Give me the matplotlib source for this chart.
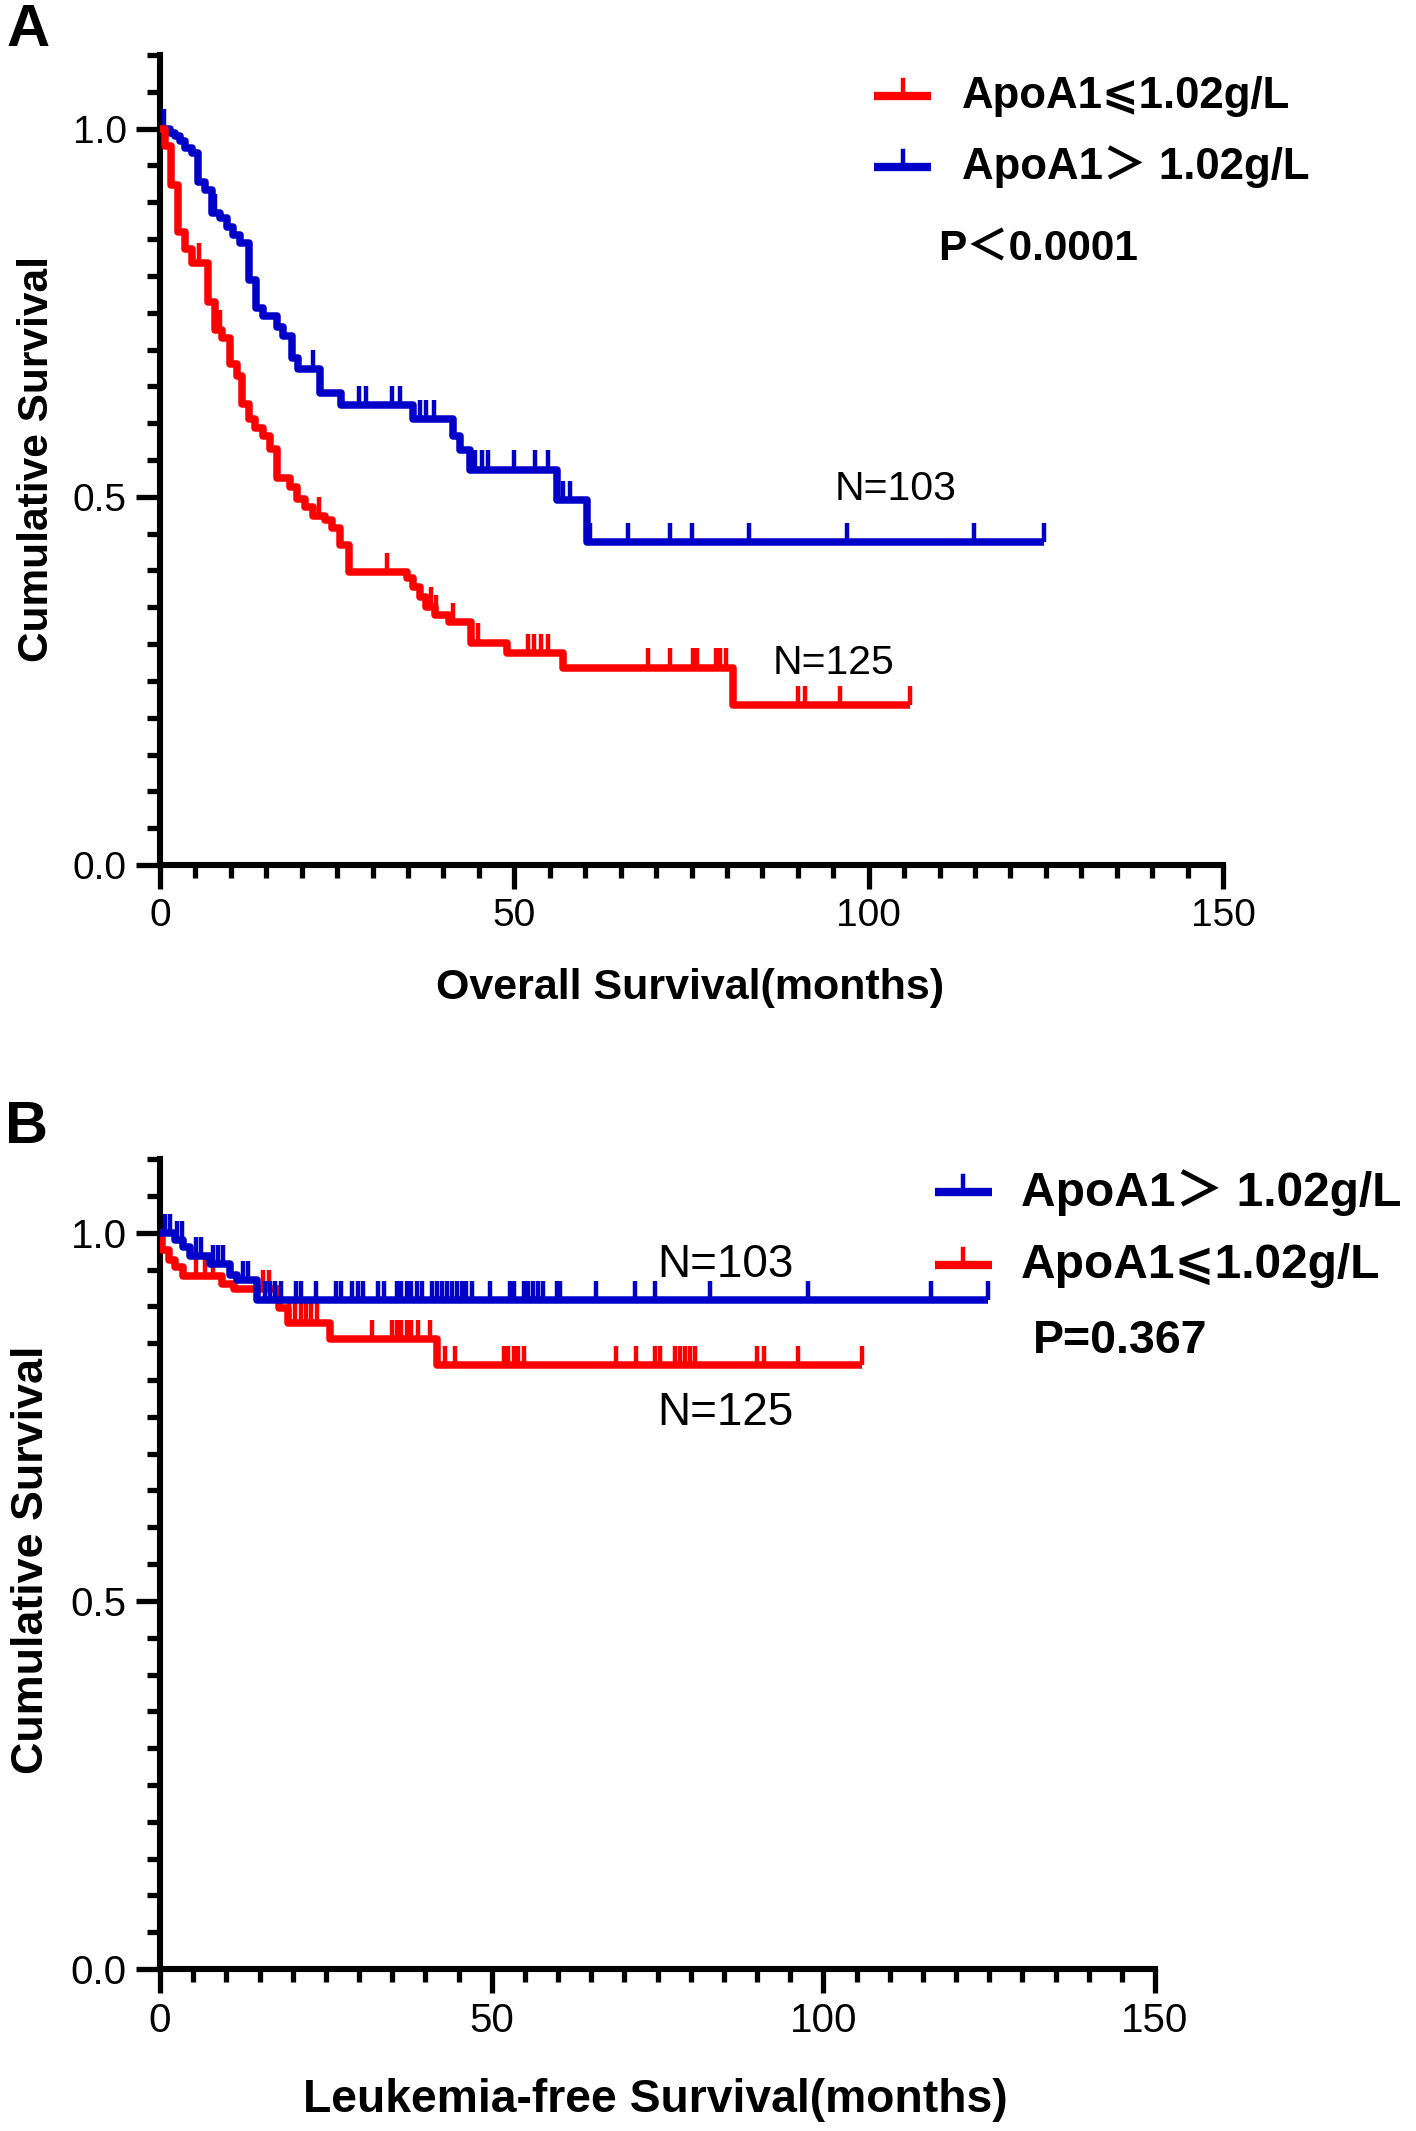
import numpy as np
import matplotlib
matplotlib.use("Agg")
import matplotlib.pyplot as plt
from matplotlib.ticker import MultipleLocator, FormatStrFormatter

plt.rcParams['font.family'] = ['Liberation Sans', 'DejaVu Sans', 'Noto Sans CJK SC']

RED = '#FF0000'
BLUE = '#0000C8'

# Panel A - overall survival (event times in months, survival after each step)
os_low_t = [0, 0.7, 1.6, 2.6, 3.5, 4.5, 6.8, 7.8, 8.7, 9.9, 10.8, 11.5, 12.5, 13.4, 14.6,
            15.5, 16.5, 18.3, 19.3, 20.5, 21.6, 23.3, 24.2, 25.4, 26.6, 34.8, 35.7, 36.7,
            37.6, 38.8, 40.8, 43.9, 49.0, 56.9, 80.9]
os_low_s = [1.0, 0.976, 0.924, 0.859, 0.836, 0.818, 0.765, 0.727, 0.716, 0.680, 0.664, 0.626,
            0.605, 0.594, 0.583, 0.565, 0.526, 0.513, 0.497, 0.486, 0.474, 0.468, 0.457, 0.434,
            0.398, 0.390, 0.378, 0.364, 0.351, 0.340, 0.330, 0.302, 0.288, 0.268, 0.217]
os_low_cens = [5.5, 8.5, 22.5, 32.0, 38.3, 38.9, 41.4, 44.9, 51.9, 52.8, 53.8, 54.7, 68.9, 72.0,
               75.2, 75.8, 78.4, 79.0, 79.9, 90.0, 91.0, 96.0, 105.9]

os_high_t = [0, 1.4, 2.1, 2.8, 3.5, 4.5, 5.4, 6.3, 7.3, 8.5, 9.4, 10.3, 11.3, 12.5, 13.6, 14.6,
             16.5, 17.4, 18.6, 19.5, 22.6, 25.6, 35.7, 41.4, 42.3, 43.7, 56.0, 60.2]
os_high_s = [1.0, 0.994, 0.990, 0.983, 0.974, 0.967, 0.928, 0.917, 0.885, 0.879, 0.867, 0.856,
             0.845, 0.795, 0.756, 0.745, 0.731, 0.718, 0.688, 0.673, 0.641, 0.625, 0.605, 0.582,
             0.564, 0.537, 0.496, 0.439]
os_high_cens = [0.5, 7.8, 21.6, 28.1, 29.0, 32.7, 33.9, 36.7, 37.6, 38.6, 44.5, 45.4, 46.3, 49.9,
                52.9, 54.8, 56.9, 57.9, 60.7, 66.0, 72.0, 75.0, 83.1, 96.9, 114.9, 124.7]

# Panel B - leukemia-free survival
lfs_low_t = [0, 0.3, 1.3, 2.3, 3.5, 9.3, 11.1, 18.0, 19.3, 25.6, 41.7]
lfs_low_s = [1.0, 0.977, 0.963, 0.954, 0.941, 0.930, 0.924, 0.898, 0.878, 0.855, 0.820]
lfs_low_cens = [5.5, 6.8, 8.0, 15.5, 16.5, 19.5, 20.3, 21.2, 22.0, 22.8, 23.6, 31.9, 34.9, 35.7,
                36.4, 37.2, 37.9, 38.9, 40.7, 43.0, 44.5, 51.8, 52.5, 53.3, 54.0, 54.8, 68.8,
                71.7, 74.6, 75.4, 77.6, 78.4, 79.2, 79.9, 80.7, 90.0, 91.0, 96.2, 105.8]

lfs_high_t = [0, 2.3, 3.5, 4.5, 7.5, 10.6, 11.6, 14.6]
lfs_high_s = [1.0, 0.990, 0.980, 0.968, 0.957, 0.943, 0.936, 0.908]
lfs_high_cens = [0.8, 1.5, 2.5, 3.3, 5.5, 6.2, 8.0, 8.8, 9.5, 12.5, 13.2, 15.8, 16.6, 17.4, 18.2,
                 20.5, 21.3, 23.5, 26.5, 27.3, 29.0, 29.8, 30.6, 32.9, 33.7, 35.7, 36.4, 37.2,
                 37.9, 38.7, 39.5, 41.0, 41.7, 42.5, 43.2, 44.0, 44.7, 45.5, 46.2, 47.0, 49.8,
                 52.8, 53.3, 54.8, 55.5, 56.3, 57.0, 57.8, 59.8, 60.3, 65.8, 71.6, 74.6, 82.9,
                 97.7, 116.2, 124.8]

label_low = 'ApoA1⩽1.02g/L'
label_high = 'ApoA1＞ 1.02g/L'
n_low = 'N=125'
n_high = 'N=103'


def km(ax, t, s, cens, color, z):
    t = np.array(t)
    s = np.array(s)
    cens = np.array(cens)
    end = cens.max()
    tt = np.append(t, end)
    ss = np.append(s, s[-1])
    ax.step(tt, ss, where='post', color=color, lw=5.4, zorder=z, solid_capstyle='butt')
    idx = np.searchsorted(t, cens, side='right') - 1
    sc = s[idx]
    ax.vlines(cens, sc, sc + 0.026, color=color, lw=3.2, zorder=z)


def style_axes(ax, labelsize):
    ax.set_xlim(0, 150)
    ax.set_ylim(0, 1.1)
    for side in ['top', 'right']:
        ax.spines[side].set_visible(False)
    for side in ['left', 'bottom']:
        ax.spines[side].set_linewidth(4.4)
    ax.xaxis.set_major_locator(MultipleLocator(50))
    ax.xaxis.set_minor_locator(MultipleLocator(5))
    ax.yaxis.set_major_locator(MultipleLocator(0.5))
    ax.yaxis.set_minor_locator(MultipleLocator(0.05))
    ax.yaxis.set_major_formatter(FormatStrFormatter('%.1f'))
    ax.tick_params(which='major', length=17, width=3.8, labelsize=labelsize, pad=7)
    ax.tick_params(which='minor', length=9.5, width=3.8)


def legend_entry(ax, x0, x1, y, color, text, size):
    ax.plot([x0, x1], [y, y], color=color, lw=6, transform=ax.transAxes, clip_on=False,
            solid_capstyle='butt')
    xm = (x0 + x1) / 2
    ax.plot([xm, xm], [y, y + 0.02], color=color, lw=3.2, transform=ax.transAxes,
            clip_on=False)
    ax.text(x1 + 0.029, y, text, transform=ax.transAxes, fontsize=size, fontweight='bold',
            va='center', ha='left')


fig = plt.figure(figsize=(14.16, 21.31), dpi=100)

# Panel A
axA = fig.add_axes([0.1130, 0.5941, 0.7507, 0.3801])
km(axA, os_high_t, os_high_s, os_high_cens, BLUE, 3)
km(axA, os_low_t, os_low_s, os_low_cens, RED, 4)
style_axes(axA, 28)
legend_entry(axA, 0.672, 0.725, 0.949, RED, label_low, 31.5)
legend_entry(axA, 0.672, 0.725, 0.862, BLUE, label_high, 31.5)
axA.text(0.732, 0.760, 'P＜0.0001', transform=axA.transAxes, fontsize=30.5, fontweight='bold',
         va='center', ha='left')
axA.text(0.692, 0.464, n_high, transform=axA.transAxes, fontsize=29.5, va='center', ha='center')
axA.text(0.634, 0.249, n_low, transform=axA.transAxes, fontsize=29.5, va='center', ha='center')
fig.text(0.487, 0.5364, 'Overall Survival(months)', fontsize=31, fontweight='bold',
         ha='center', va='center')
fig.text(0.026, 0.7846, 'Cumulative Survival', fontsize=30.5, fontweight='bold',
         rotation=90, ha='center', va='center')
fig.text(0.020, 0.9855, 'A', fontsize=43, fontweight='bold', ha='center', va='center')

# Panel B
axB = fig.add_axes([0.1130, 0.0760, 0.7027, 0.3801])
km(axB, lfs_low_t, lfs_low_s, lfs_low_cens, RED, 3)
km(axB, lfs_high_t, lfs_high_s, lfs_high_cens, BLUE, 4)
style_axes(axB, 29)
legend_entry(axB, 0.779, 0.836, 0.959, BLUE, label_high, 34.5)
legend_entry(axB, 0.779, 0.836, 0.869, RED, label_low, 34.5)
axB.text(0.877, 0.775, 'P=0.367', transform=axB.transAxes, fontsize=33.5, fontweight='bold',
         va='center', ha='left')
axB.text(0.568, 0.869, n_high, transform=axB.transAxes, fontsize=33, va='center', ha='center')
axB.text(0.568, 0.686, n_low, transform=axB.transAxes, fontsize=33, va='center', ha='center')
fig.text(0.463, 0.0145, 'Leukemia-free Survival(months)', fontsize=33.3, fontweight='bold',
         ha='center', va='center')
fig.text(0.022, 0.268, 'Cumulative Survival', fontsize=32.3, fontweight='bold',
         rotation=90, ha='center', va='center')
fig.text(0.019, 0.4707, 'B', fontsize=43, fontweight='bold', ha='center', va='center')

fig.savefig('out.png', dpi=100)
